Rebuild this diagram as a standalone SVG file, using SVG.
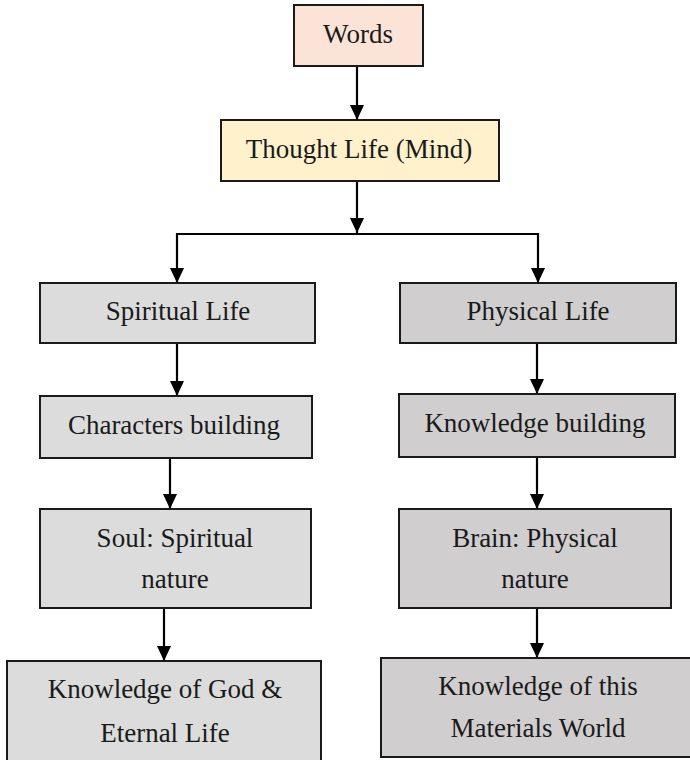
<svg xmlns="http://www.w3.org/2000/svg" width="690" height="760" viewBox="0 0 690 760">
<style>
.box{stroke:#1a1a1a;stroke-width:2}
.t{font-family:"Liberation Serif","DejaVu Serif",serif;font-size:27px;fill:#1a1a1a;text-anchor:middle}
.c{stroke:#000;stroke-width:2.2;fill:none}
.pink{fill:#fbe4d7}
.yel{fill:#fff1cc}
.g1{fill:#dcdcdc}
.g2{fill:#d0cecf}
</style>
<defs>
<marker id="ah" viewBox="0 0 15 14" refX="15" refY="7" markerWidth="15" markerHeight="14" markerUnits="userSpaceOnUse" orient="auto">
<path d="M0,0 L15,7 L0,14 Z" fill="#000"/>
</marker>
</defs>
<g id="connectors">
<line class="c" x1="357" y1="66" x2="357" y2="120" marker-end="url(#ah)"/>
<line class="c" x1="357" y1="181" x2="357" y2="233" marker-end="url(#ah)"/>
<line class="c" x1="176" y1="234" x2="539" y2="234"/>
<line class="c" x1="177" y1="233" x2="177" y2="283" marker-end="url(#ah)"/>
<line class="c" x1="538" y1="233" x2="538" y2="283" marker-end="url(#ah)"/>
<line class="c" x1="177" y1="343" x2="177" y2="396" marker-end="url(#ah)"/>
<line class="c" x1="537" y1="343" x2="537" y2="394" marker-end="url(#ah)"/>
<line class="c" x1="170" y1="458" x2="170" y2="509" marker-end="url(#ah)"/>
<line class="c" x1="537" y1="457" x2="537" y2="509" marker-end="url(#ah)"/>
<line class="c" x1="164" y1="608" x2="164" y2="661" marker-end="url(#ah)"/>
<line class="c" x1="537" y1="608" x2="537" y2="658" marker-end="url(#ah)"/>
</g>
<g id="words">
<rect class="box pink" x="294" y="5" width="129" height="61"/>
<text class="t" x="358" y="43">Words</text>
</g>
<g id="thought">
<rect class="box yel" x="221" y="120" width="278" height="61"/>
<text class="t" x="359" y="158">Thought Life (Mind)</text>
</g>
<g id="spiritual">
<rect class="box g1" x="40" y="283" width="275" height="60"/>
<text class="t" x="178" y="320">Spiritual Life</text>
</g>
<g id="physical">
<rect class="box g2" x="400" y="283" width="276" height="60"/>
<text class="t" x="538" y="320">Physical Life</text>
</g>
<g id="characters">
<rect class="box g1" x="40" y="396" width="272" height="62"/>
<text class="t" x="174" y="434">Characters building</text>
</g>
<g id="knowledgeb">
<rect class="box g2" x="399" y="394" width="276" height="63"/>
<text class="t" x="535" y="432">Knowledge building</text>
</g>
<g id="soul">
<rect class="box g1" x="40" y="509" width="271" height="99"/>
<text class="t" x="175" y="547">Soul: Spiritual</text>
<text class="t" x="175" y="588">nature</text>
</g>
<g id="brain">
<rect class="box g2" x="399" y="509" width="272" height="99"/>
<text class="t" x="535" y="547">Brain: Physical</text>
<text class="t" x="535" y="588">nature</text>
</g>
<g id="god">
<rect class="box g1" x="7" y="661" width="314" height="101"/>
<text class="t" x="165" y="698">Knowledge of God &amp;</text>
<text class="t" x="165" y="742">Eternal Life</text>
</g>
<g id="world">
<rect class="box g2" x="381" y="658" width="314" height="99"/>
<text class="t" x="538" y="695">Knowledge of this</text>
<text class="t" x="538" y="737">Materials World</text>
</g>
</svg>
